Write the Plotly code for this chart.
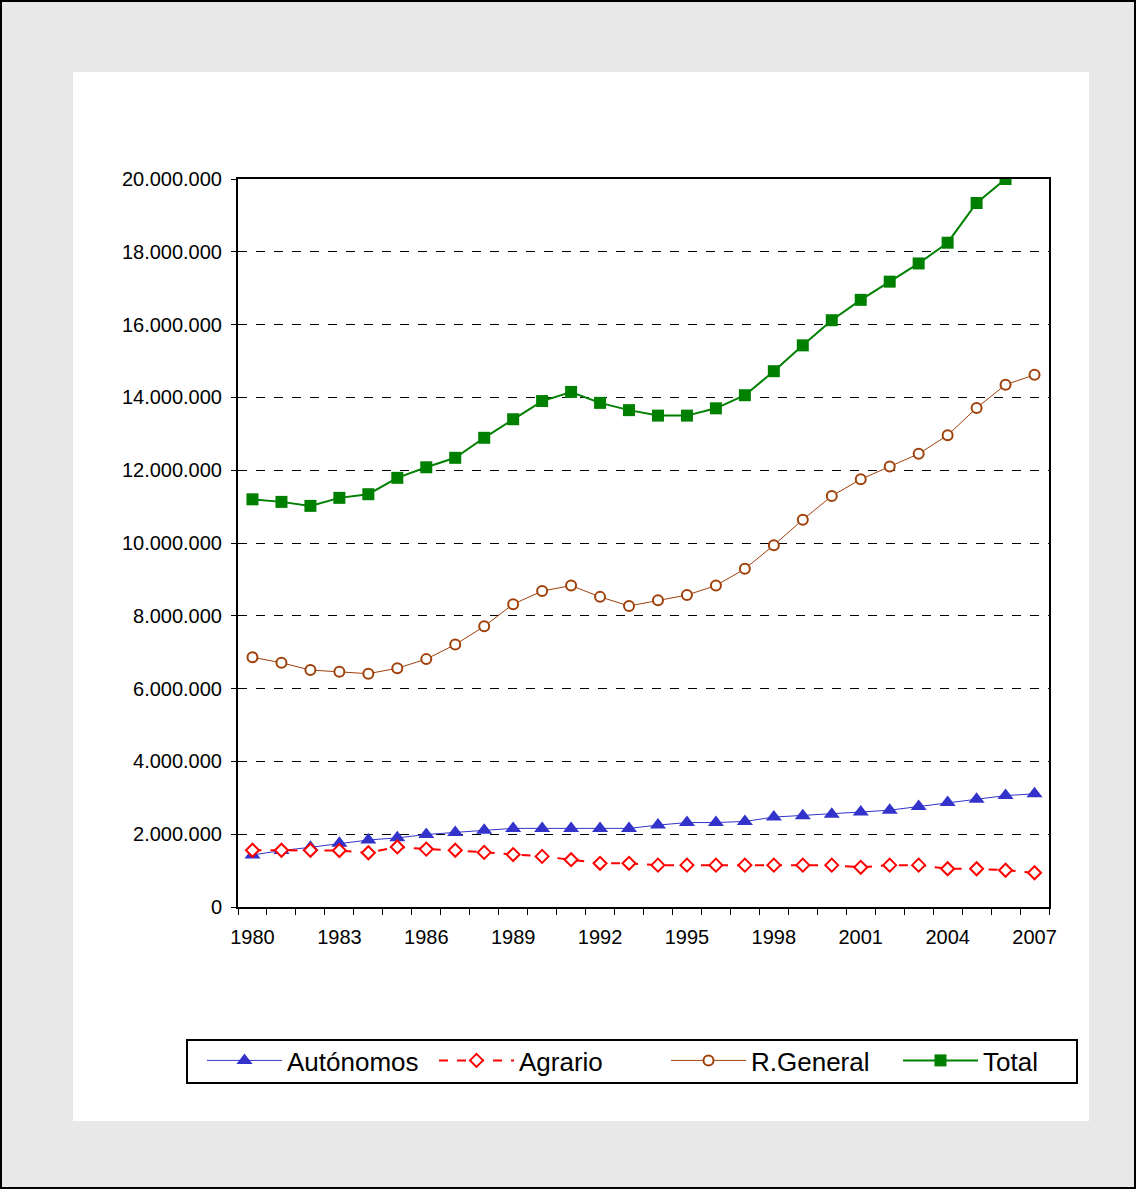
import plotly.graph_objects as go

years = list(range(1980, 2008))
autonomos = [1.43, 1.55, 1.64, 1.75, 1.84, 1.90, 1.99, 2.05, 2.11, 2.16, 2.16, 2.16, 2.16, 2.16,
             2.25, 2.32, 2.32, 2.35, 2.47, 2.51, 2.55, 2.61, 2.66, 2.76, 2.87, 2.96, 3.06, 3.11]
agrario = [1.56, 1.56, 1.56, 1.55, 1.49, 1.65, 1.59, 1.56, 1.50, 1.44, 1.39, 1.30, 1.20, 1.20,
           1.15, 1.15, 1.15, 1.15, 1.15, 1.15, 1.15, 1.09, 1.15, 1.15, 1.05, 1.05, 1.01, 0.94]
rgeneral = [6.86, 6.71, 6.51, 6.46, 6.41, 6.56, 6.81, 7.21, 7.71, 8.32, 8.68, 8.83, 8.52, 8.27,
            8.43, 8.57, 8.83, 9.29, 9.94, 10.64, 11.29, 11.75, 12.10, 12.45, 12.96, 13.71, 14.35, 14.62]
total = [11.20, 11.13, 11.02, 11.24, 11.34, 11.79, 12.08, 12.34, 12.89, 13.40, 13.90, 14.15, 13.85, 13.65,
         13.50, 13.50, 13.70, 14.06, 14.72, 15.43, 16.12, 16.68, 17.18, 17.68, 18.25, 19.34, 20.00, 20.20]
label_years = list(range(1980, 2008, 3))

M = 1_000_000
font_family = "Arial, Liberation Sans, sans-serif"

fig = go.Figure()
fig.add_trace(go.Scatter(
    x=years, y=[v * M for v in autonomos], name="Autónomos", mode="lines+markers",
    line=dict(color="#3333CC", width=1),
    marker=dict(symbol="triangle-up", size=14, color="#3333CC")))
fig.add_trace(go.Scatter(
    x=years, y=[v * M for v in agrario], name="Agrario", mode="lines+markers",
    line=dict(color="#FF0000", width=2, dash="dash"),
    marker=dict(symbol="diamond", size=10, color="white", line=dict(color="#FF0000", width=2))))
fig.add_trace(go.Scatter(
    x=years, y=[v * M for v in rgeneral], name="R.General", mode="lines+markers",
    line=dict(color="#A0400A", width=1),
    marker=dict(symbol="circle", size=10, color="white", line=dict(color="#A0400A", width=2))))
fig.add_trace(go.Scatter(
    x=years, y=[v * M for v in total], name="Total", mode="lines+markers",
    line=dict(color="#008000", width=2),
    marker=dict(symbol="square", size=12, color="#008000")))

L, R, T, B = 238, 87, 179, 282
W, H = 1136, 1189
pw, ph = W - L - R, H - T - B

def px(x):
    return (x - L) / pw

def py(y):
    return (H - B - y) / ph

fig.update_layout(
    width=W, height=H,
    margin=dict(l=L, r=R, t=T, b=B, pad=0),
    paper_bgcolor="#E8E8E8", plot_bgcolor="white",
    separators=",.",
    font=dict(family=font_family, size=20, color="black"),
    showlegend=True,
    legend=dict(orientation="h", x=px(202), y=py(1037), xanchor="left", yanchor="top",
                bgcolor="rgba(0,0,0,0)", borderwidth=0,
                font=dict(size=26, family=font_family), itemwidth=75,
                entrywidth=142, entrywidthmode="pixels"),
    shapes=[
        dict(type="rect", xref="paper", yref="paper", x0=px(73), x1=px(1089), y0=py(1121), y1=py(72),
             fillcolor="white", line=dict(width=0), layer="below"),
        dict(type="rect", xref="paper", yref="paper", x0=px(187), x1=px(1077), y0=py(1083), y1=py(1040),
             fillcolor="rgba(0,0,0,0)", line=dict(color="black", width=2), layer="above"),
        dict(type="rect", xref="paper", yref="paper", x0=px(1), x1=px(1135), y0=py(1188), y1=py(1),
             fillcolor="rgba(0,0,0,0)", line=dict(color="black", width=2), layer="above"),
    ],
)

fig.update_xaxes(
    range=[1979.5, 2007.5], tickmode="array", tickvals=label_years, ticktext=[str(y) for y in label_years],
    ticks="", showgrid=False, showline=True, linecolor="black", linewidth=2, mirror=True,
    ticklabelstandoff=11, zeroline=False,
    minor=dict(ticks="outside", tick0=1979.5, dtick=1, ticklen=6, tickcolor="black", tickwidth=1, showgrid=False),
)
fig.update_yaxes(
    range=[0, 20 * M], dtick=2 * M, tickformat=",d", ticks="outside", ticklen=5, tickcolor="black",
    tickwidth=1, showgrid=True, gridcolor="black", griddash="dash", gridwidth=1,
    showline=True, linecolor="black", linewidth=2, mirror=True, zeroline=False,
    ticklabelstandoff=5,
)

fig.write_html("out.html", config={"displayModeBar": False},
               post_script="document.body.style.margin='0';document.body.style.overflow='hidden';")
